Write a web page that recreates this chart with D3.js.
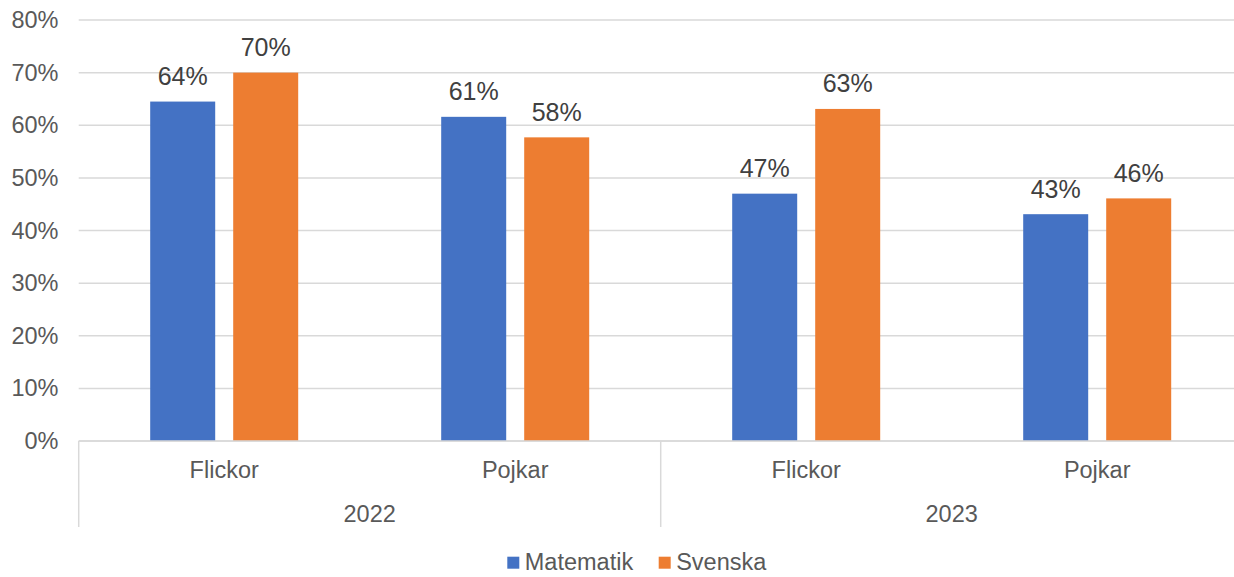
<!DOCTYPE html>
<html><head><meta charset="utf-8">
<script src="https://cdn.jsdelivr.net/npm/d3@7"></script>
<style>body{margin:0;background:#fff}svg{display:block;font-family:"Liberation Sans",Arial,sans-serif}</style>
</head><body><svg id="c" width="1234" height="577"></svg>
<script>
const categories = ["Flickor", "Pojkar", "Flickor", "Pojkar"];
const years = ["2022", "2023"];
const seriesNames = ["Matematik", "Svenska"];
const matematik = [64.5, 61.6, 47.0, 43.1];
const svenska = [70.0, 57.7, 63.1, 46.1];
const labelsMatematik = ["64%", "61%", "47%", "43%"];
const labelsSvenska = ["70%", "58%", "63%", "46%"];
const yTicks = [0, 10, 20, 30, 40, 50, 60, 70, 80];
const colors = ["#4472C4", "#ED7D31"];

(function () {
const svg = d3.select("#c");
const pLeft = 78.7, pRight = 1242.7, pTop = 20, pBottom = 441;
const y = d3.scaleLinear().domain([0, 80]).range([pBottom, pTop]);
const x0 = d3.scaleBand().domain(d3.range(categories.length)).range([pLeft, pRight]).padding(0);
const inner = d3.scaleBand().domain(seriesNames).range([71.5, 219.5]).paddingInner(18/83).paddingOuter(0);

// gridlines
svg.append("g").selectAll("line").data(yTicks).join("line")
  .attr("x1", pLeft).attr("x2", pRight)
  .attr("y1", d => y(d)).attr("y2", d => y(d))
  .attr("stroke", "#d9d9d9").attr("stroke-width", 1.5);

// y axis labels
const yAxis = d3.axisLeft(y).tickValues(yTicks).tickFormat(d => d + "%").tickSize(0).tickPadding(0);
const ya = svg.append("g").attr("transform", `translate(${58.5},0)`).call(yAxis);
ya.select(".domain").remove();
ya.selectAll("text").attr("font-size", 23.5).attr("fill", "#595959").attr("font-family", "Liberation Sans, Arial, sans-serif");

// bars
const data = seriesNames.map((s, si) => ({ name: s, values: si === 0 ? matematik : svenska, labels: si === 0 ? labelsMatematik : labelsSvenska, color: colors[si] }));
data.forEach(s => {
  const g = svg.append("g");
  g.selectAll("rect").data(s.values).join("rect")
    .attr("x", (d, i) => x0(i) + inner(s.name))
    .attr("width", inner.bandwidth())
    .attr("y", d => y(d))
    .attr("height", d => y(0) - y(d))
    .attr("fill", s.color);
  g.selectAll("text").data(s.values).join("text")
    .attr("x", (d, i) => x0(i) + inner(s.name) + inner.bandwidth() / 2)
    .attr("y", d => y(d) - 16.5)
    .attr("text-anchor", "middle").attr("font-size", 25).attr("fill", "#404040")
    .text((d, i) => s.labels[i]);
});

// baseline
svg.append("line").attr("x1", pLeft).attr("x2", pRight).attr("y1", y(0)).attr("y2", y(0))
  .attr("stroke", "#d9d9d9").attr("stroke-width", 1.5);

// category labels
svg.append("g").selectAll("text").data(categories).join("text")
  .attr("x", (d, i) => x0(i) + x0.bandwidth() / 2).attr("y", 478)
  .attr("text-anchor", "middle").attr("font-size", 23.5).attr("fill", "#595959").text(d => d);

// year labels & separators
const yearScale = d3.scaleBand().domain(years).range([pLeft, pRight]);
svg.append("g").selectAll("text").data(years).join("text")
  .attr("x", d => yearScale(d) + yearScale.bandwidth() / 2).attr("y", 521.5)
  .attr("text-anchor", "middle").attr("font-size", 23.5).attr("fill", "#595959").text(d => d);
const seps = years.map(d => yearScale(d)).concat([pRight]);
svg.append("g").selectAll("line").data(seps).join("line")
  .attr("x1", d => d).attr("x2", d => d).attr("y1", y(0)).attr("y2", 527)
  .attr("stroke", "#d9d9d9").attr("stroke-width", 1.5);

// legend
const legendX = [507.3, 658.7];
const lg = svg.append("g");
seriesNames.forEach((s, i) => {
  lg.append("rect").attr("x", legendX[i]).attr("y", 556.7).attr("width", 12).attr("height", 12).attr("fill", colors[i]);
  lg.append("text").attr("x", legendX[i] + 17.5).attr("y", 569.5).attr("font-size", 23.5).attr("fill", "#595959").text(s);
});
})();
</script></body></html>
